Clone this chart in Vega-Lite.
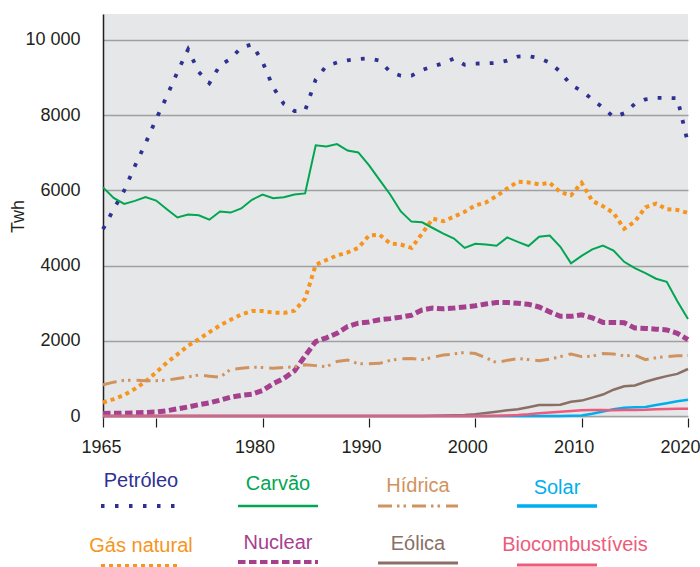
{
  "$schema": "https://vega.github.io/schema/vega-lite/v6.json",
  "width": 585,
  "height": 404,
  "autosize": {"type": "none"},
  "padding": {"left": 103, "top": 14, "right": 12, "bottom": 149},
  "background": "white",
  "config": {
    "view": {"fill": "#e6e7e8", "stroke": null},
    "font": "Liberation Sans"
  },
  "data": {"values": [
    {"year":1965,"Petróleo":4970,"Carvão":6080,"Hídrica":830,"Solar":0,"Gás natural":360,"Nuclear":70,"Eólica":0,"Biocombustíveis":0},
    {"year":1966,"Petróleo":5500,"Carvão":5800,"Hídrica":900,"Solar":0,"Gás natural":450,"Nuclear":72,"Eólica":0,"Biocombustíveis":0},
    {"year":1967,"Petróleo":6000,"Carvão":5640,"Hídrica":950,"Solar":0,"Gás natural":560,"Nuclear":75,"Eólica":0,"Biocombustíveis":0},
    {"year":1968,"Petróleo":6650,"Carvão":5720,"Hídrica":950,"Solar":0,"Gás natural":720,"Nuclear":85,"Eólica":0,"Biocombustíveis":0},
    {"year":1969,"Petróleo":7250,"Carvão":5820,"Hídrica":940,"Solar":0,"Gás natural":920,"Nuclear":95,"Eólica":0,"Biocombustíveis":0},
    {"year":1970,"Petróleo":7900,"Carvão":5730,"Hídrica":940,"Solar":0,"Gás natural":1160,"Nuclear":105,"Eólica":0,"Biocombustíveis":0},
    {"year":1971,"Petróleo":8500,"Carvão":5500,"Hídrica":950,"Solar":0,"Gás natural":1420,"Nuclear":140,"Eólica":0,"Biocombustíveis":0},
    {"year":1972,"Petróleo":9150,"Carvão":5280,"Hídrica":1000,"Solar":0,"Gás natural":1640,"Nuclear":190,"Eólica":0,"Biocombustíveis":0},
    {"year":1973,"Petróleo":9750,"Carvão":5360,"Hídrica":1040,"Solar":0,"Gás natural":1870,"Nuclear":240,"Eólica":0,"Biocombustíveis":0},
    {"year":1974,"Petróleo":9150,"Carvão":5340,"Hídrica":1090,"Solar":0,"Gás natural":2040,"Nuclear":300,"Eólica":0,"Biocombustíveis":0},
    {"year":1975,"Petróleo":8850,"Carvão":5220,"Hídrica":1060,"Solar":0,"Gás natural":2230,"Nuclear":350,"Eólica":0,"Biocombustíveis":0},
    {"year":1976,"Petróleo":9330,"Carvão":5440,"Hídrica":1030,"Solar":0,"Gás natural":2410,"Nuclear":420,"Eólica":0,"Biocombustíveis":0},
    {"year":1977,"Petróleo":9500,"Carvão":5410,"Hídrica":1240,"Solar":0,"Gás natural":2560,"Nuclear":500,"Eólica":0,"Biocombustíveis":0},
    {"year":1978,"Petróleo":9800,"Carvão":5520,"Hídrica":1270,"Solar":0,"Gás natural":2700,"Nuclear":550,"Eólica":0,"Biocombustíveis":0},
    {"year":1979,"Petróleo":9880,"Carvão":5750,"Hídrica":1300,"Solar":0,"Gás natural":2790,"Nuclear":580,"Eólica":0,"Biocombustíveis":0},
    {"year":1980,"Petróleo":9420,"Carvão":5890,"Hídrica":1290,"Solar":0,"Gás natural":2790,"Nuclear":680,"Eólica":0,"Biocombustíveis":0},
    {"year":1981,"Petróleo":8740,"Carvão":5790,"Hídrica":1270,"Solar":0,"Gás natural":2750,"Nuclear":860,"Eólica":0,"Biocombustíveis":0},
    {"year":1982,"Petróleo":8300,"Carvão":5820,"Hídrica":1290,"Solar":0,"Gás natural":2740,"Nuclear":1000,"Eólica":0,"Biocombustíveis":0},
    {"year":1983,"Petróleo":8110,"Carvão":5890,"Hídrica":1310,"Solar":0,"Gás natural":2800,"Nuclear":1200,"Eólica":0,"Biocombustíveis":0},
    {"year":1984,"Petróleo":8120,"Carvão":5920,"Hídrica":1360,"Solar":0,"Gás natural":3120,"Nuclear":1600,"Eólica":0,"Biocombustíveis":0},
    {"year":1985,"Petróleo":8950,"Carvão":7200,"Hídrica":1340,"Solar":0,"Gás natural":4020,"Nuclear":1980,"Eólica":0,"Biocombustíveis":0},
    {"year":1986,"Petróleo":9310,"Carvão":7170,"Hídrica":1310,"Solar":0,"Gás natural":4150,"Nuclear":2080,"Eólica":0,"Biocombustíveis":0},
    {"year":1987,"Petróleo":9400,"Carvão":7230,"Hídrica":1450,"Solar":0,"Gás natural":4270,"Nuclear":2200,"Eólica":0,"Biocombustíveis":0},
    {"year":1988,"Petróleo":9460,"Carvão":7060,"Hídrica":1490,"Solar":0,"Gás natural":4350,"Nuclear":2380,"Eólica":0,"Biocombustíveis":0},
    {"year":1989,"Petróleo":9490,"Carvão":7010,"Hídrica":1390,"Solar":0,"Gás natural":4470,"Nuclear":2470,"Eólica":0,"Biocombustíveis":0},
    {"year":1990,"Petróleo":9510,"Carvão":6670,"Hídrica":1390,"Solar":0,"Gás natural":4800,"Nuclear":2500,"Eólica":0,"Biocombustíveis":0},
    {"year":1991,"Petróleo":9450,"Carvão":6280,"Hídrica":1400,"Solar":0,"Gás natural":4820,"Nuclear":2560,"Eólica":0,"Biocombustíveis":0},
    {"year":1992,"Petróleo":9150,"Carvão":5890,"Hídrica":1480,"Solar":0,"Gás natural":4590,"Nuclear":2590,"Eólica":0,"Biocombustíveis":0},
    {"year":1993,"Petróleo":9050,"Carvão":5440,"Hídrica":1520,"Solar":0,"Gás natural":4560,"Nuclear":2630,"Eólica":0,"Biocombustíveis":0},
    {"year":1994,"Petróleo":9050,"Carvão":5170,"Hídrica":1530,"Solar":0,"Gás natural":4470,"Nuclear":2680,"Eólica":0,"Biocombustíveis":0},
    {"year":1995,"Petróleo":9200,"Carvão":5150,"Hídrica":1500,"Solar":0,"Gás natural":4850,"Nuclear":2820,"Eólica":0,"Biocombustíveis":0},
    {"year":1996,"Petróleo":9300,"Carvão":5000,"Hídrica":1560,"Solar":0,"Gás natural":5250,"Nuclear":2870,"Eólica":5,"Biocombustíveis":0},
    {"year":1997,"Petróleo":9380,"Carvão":4850,"Hídrica":1620,"Solar":0,"Gás natural":5180,"Nuclear":2850,"Eólica":12,"Biocombustíveis":0},
    {"year":1998,"Petróleo":9510,"Carvão":4720,"Hídrica":1650,"Solar":0,"Gás natural":5300,"Nuclear":2870,"Eólica":20,"Biocombustíveis":0},
    {"year":1999,"Petróleo":9340,"Carvão":4470,"Hídrica":1690,"Solar":0,"Gás natural":5430,"Nuclear":2900,"Eólica":30,"Biocombustíveis":0},
    {"year":2000,"Petróleo":9370,"Carvão":4580,"Hídrica":1660,"Solar":0,"Gás natural":5600,"Nuclear":2930,"Eólica":50,"Biocombustíveis":0},
    {"year":2001,"Petróleo":9380,"Carvão":4560,"Hídrica":1550,"Solar":0,"Gás natural":5680,"Nuclear":2980,"Eólica":80,"Biocombustíveis":0},
    {"year":2002,"Petróleo":9390,"Carvão":4530,"Hídrica":1420,"Solar":0,"Gás natural":5850,"Nuclear":3020,"Eólica":115,"Biocombustíveis":10},
    {"year":2003,"Petróleo":9450,"Carvão":4750,"Hídrica":1480,"Solar":0,"Gás natural":6050,"Nuclear":3020,"Eólica":150,"Biocombustíveis":15},
    {"year":2004,"Petróleo":9560,"Carvão":4630,"Hídrica":1530,"Solar":0,"Gás natural":6230,"Nuclear":3000,"Eólica":178,"Biocombustíveis":25},
    {"year":2005,"Petróleo":9570,"Carvão":4520,"Hídrica":1500,"Solar":0,"Gás natural":6210,"Nuclear":2970,"Eólica":231,"Biocombustíveis":45},
    {"year":2006,"Petróleo":9520,"Carvão":4770,"Hídrica":1470,"Solar":0,"Gás natural":6160,"Nuclear":2900,"Eólica":290,"Biocombustíveis":72},
    {"year":2007,"Petróleo":9400,"Carvão":4800,"Hídrica":1510,"Solar":0,"Gás natural":6200,"Nuclear":2770,"Eólica":290,"Biocombustíveis":95},
    {"year":2008,"Petróleo":9150,"Carvão":4500,"Hídrica":1580,"Solar":3,"Gás natural":5950,"Nuclear":2650,"Eólica":300,"Biocombustíveis":115},
    {"year":2009,"Petróleo":8800,"Carvão":4060,"Hídrica":1650,"Solar":6,"Gás natural":5870,"Nuclear":2650,"Eólica":380,"Biocombustíveis":135},
    {"year":2010,"Petróleo":8650,"Carvão":4260,"Hídrica":1580,"Solar":12,"Gás natural":6200,"Nuclear":2690,"Eólica":410,"Biocombustíveis":155},
    {"year":2011,"Petróleo":8420,"Carvão":4430,"Hídrica":1590,"Solar":60,"Gás natural":5720,"Nuclear":2610,"Eólica":490,"Biocombustíveis":160},
    {"year":2012,"Petróleo":8200,"Carvão":4530,"Hídrica":1660,"Solar":120,"Gás natural":5580,"Nuclear":2490,"Eólica":570,"Biocombustíveis":158},
    {"year":2013,"Petróleo":7950,"Carvão":4400,"Hídrica":1650,"Solar":178,"Gás natural":5400,"Nuclear":2490,"Eólica":700,"Biocombustíveis":150},
    {"year":2014,"Petróleo":8050,"Carvão":4100,"Hídrica":1600,"Solar":220,"Gás natural":4980,"Nuclear":2480,"Eólica":790,"Biocombustíveis":160},
    {"year":2015,"Petróleo":8300,"Carvão":3930,"Hídrica":1620,"Solar":235,"Gás natural":5170,"Nuclear":2340,"Eólica":810,"Biocombustíveis":162},
    {"year":2016,"Petróleo":8420,"Carvão":3800,"Hídrica":1500,"Solar":240,"Gás natural":5550,"Nuclear":2330,"Eólica":912,"Biocombustíveis":165},
    {"year":2017,"Petróleo":8460,"Carvão":3650,"Hídrica":1550,"Solar":290,"Gás natural":5650,"Nuclear":2310,"Eólica":990,"Biocombustíveis":178},
    {"year":2018,"Petróleo":8460,"Carvão":3570,"Hídrica":1580,"Solar":340,"Gás natural":5500,"Nuclear":2290,"Eólica":1060,"Biocombustíveis":185},
    {"year":2019,"Petróleo":8450,"Carvão":3050,"Hídrica":1600,"Solar":390,"Gás natural":5480,"Nuclear":2200,"Eólica":1120,"Biocombustíveis":195},
    {"year":2020,"Petróleo":7250,"Carvão":2580,"Hídrica":1610,"Solar":430,"Gás natural":5400,"Nuclear":2030,"Eólica":1250,"Biocombustíveis":195}
  ]},
  "transform": [
    {"fold": ["Petróleo","Carvão","Hídrica","Solar","Gás natural","Nuclear","Eólica","Biocombustíveis"], "as": ["series","value"]}
  ],
  "encoding": {
    "x": {"field": "year", "type": "quantitative",
      "scale": {"domain": [1965, 2020], "nice": false, "zero": false},
      "axis": {"title": null, "values": [1965,1970,1980,1990,2000,2010,2020], "format": "d",
        "labelExpr": "datum.value == 1970 ? '' : datum.label",
        "grid": false, "domain": false, "ticks": true, "tickColor": "#231f20", "tickSize": 9, "tickWidth": 1.2,
        "labelFontSize": 18, "labelColor": "#231f20", "labelPadding": 11, "labelFlush": false, "labelOverlap": false, "labelBound": false,
        "labelOffset": {"condition": {"test": "datum.value == 1965", "value": -2}, "value": -8}}},
    "y": {"field": "value", "type": "quantitative",
      "scale": {"domain": [-53, 10691], "nice": false, "zero": false},
      "axis": {"title": "Twh", "values": [0,2000,4000,6000,8000,10000], "format": "d",
        "labelExpr": "datum.value == 10000 ? '10 000' : datum.label",
        "grid": true, "gridColor": "#a0a0a0", "gridWidth": 1.3, "ticks": false,
        "domain": true, "domainColor": "#231f20", "domainWidth": 1.5,
        "labelFontSize": 18, "labelColor": "#231f20", "labelPadding": 23,
        "titleFontSize": 18, "titleFontWeight": "normal", "titleColor": "#231f20",
        "titleX": -85, "titleY": 202, "titleAngle": -90, "titleAlign": "center", "titleBaseline": "middle"}}
  },
  "layer": [
    {
      "encoding": {"color": {"field": "series", "type": "nominal",
        "scale": {"domain": ["Petróleo","Gás natural"], "range": ["#2e3192","#f7941d"]},
        "legend": {"title": null, "orient": "none", "legendX": 28, "legendY": 482, "direction": "vertical",
          "symbolType": "stroke", "symbolSize": 6400, "symbolStrokeWidth": 3.5,
          "labelOffset": -10, "labelAlign": "center", "labelFontSize": 20, "labelFont": "Liberation Sans", "labelLimit": 400,
          "rowPadding": 22, "padding": 0,
          "encode": {
            "labels": {"update": {"dy": {"signal": "datum.value === 'Petróleo' ? -25 : -20"}, "fill": {"signal": "datum.value === 'Petróleo' ? '#2e3192' : '#f7941d'"}}},
            "symbols": {"update": {"strokeDash": {"signal": "datum.value === 'Petróleo' ? [3.5,10.5] : [4,4]"}, "strokeWidth": {"signal": "datum.value === 'Petróleo' ? 4 : 4"}}}}}}},
      "layer": [
        {"transform": [{"filter": {"field": "series", "equal": "Petróleo"}}],
         "mark": {"type": "line", "strokeWidth": 3.8, "strokeDash": [3.8,10.2], "strokeCap": "butt"}},
        {"transform": [{"filter": {"field": "series", "equal": "Gás natural"}}],
         "mark": {"type": "line", "strokeWidth": 4, "strokeDash": [4,4], "strokeCap": "butt"}}
      ]
    },
    {
      "encoding": {"color": {"field": "series", "type": "nominal",
        "scale": {"domain": ["Carvão","Nuclear"], "range": ["#00a651","#a5408f"]},
        "legend": {"title": null, "orient": "none", "legendX": 165, "legendY": 482, "direction": "vertical",
          "symbolType": "stroke", "symbolSize": 6400, "symbolStrokeWidth": 3,
          "labelOffset": -10, "labelAlign": "center", "labelFontSize": 20, "labelFont": "Liberation Sans", "labelLimit": 400,
          "rowPadding": 22, "padding": 0,
          "encode": {
            "labels": {"update": {"dy": {"signal": "datum.value === 'Carvão' ? -22 : -19"}, "fill": {"signal": "datum.value === 'Carvão' ? '#00a651' : '#a5408f'"}}},
            "symbols": {"update": {"strokeDash": {"signal": "datum.value === 'Carvão' ? [1,0] : [7.5,3.5]"}, "strokeWidth": {"signal": "datum.value === 'Carvão' ? 2.5 : 4"}}}}}}},
      "layer": [
        {"transform": [{"filter": {"field": "series", "equal": "Carvão"}}],
         "mark": {"type": "line", "strokeWidth": 2}},
        {"transform": [{"filter": {"field": "series", "equal": "Nuclear"}}],
         "mark": {"type": "line", "strokeWidth": 5, "strokeDash": [7.5,3.5], "strokeCap": "butt"}}
      ]
    },
    {
      "encoding": {"color": {"field": "series", "type": "nominal",
        "scale": {"domain": ["Hídrica","Eólica"], "range": ["#d0935f","#8a6f66"]},
        "legend": {"title": null, "orient": "none", "legendX": 305, "legendY": 482, "direction": "vertical",
          "symbolType": "stroke", "symbolSize": 6400, "symbolStrokeWidth": 3,
          "labelOffset": -10, "labelAlign": "center", "labelFontSize": 20, "labelFont": "Liberation Sans", "labelLimit": 400,
          "rowPadding": 22, "padding": 0,
          "encode": {
            "labels": {"update": {"dy": {"signal": "datum.value === 'Hídrica' ? -20 : -19"}, "fill": {"signal": "datum.value === 'Hídrica' ? '#d0935f' : '#8a6f66'"}}},
            "symbols": {"update": {"strokeDash": {"signal": "datum.value === 'Hídrica' ? [14,5,2.5,4,2.5,6] : [1,0]"}, "strokeWidth": {"signal": "datum.value === 'Hídrica' ? 3 : 3"}}}}}}},
      "layer": [
        {"transform": [{"filter": {"field": "series", "equal": "Hídrica"}}],
         "mark": {"type": "line", "strokeWidth": 3, "strokeDash": [14,5,2.5,4,2.5,6], "strokeCap": "butt"}},
        {"transform": [{"filter": {"field": "series", "equal": "Eólica"}}],
         "mark": {"type": "line", "strokeWidth": 2.5}}
      ]
    },
    {
      "encoding": {"color": {"field": "series", "type": "nominal",
        "scale": {"domain": ["Solar","Biocombustíveis"], "range": ["#00aeef","#ec5b7c"]},
        "legend": {"title": null, "orient": "none", "legendX": 444, "legendY": 482, "direction": "vertical",
          "symbolType": "stroke", "symbolSize": 6400, "symbolStrokeWidth": 3,
          "labelOffset": -10, "labelAlign": "center", "labelFontSize": 20, "labelFont": "Liberation Sans", "labelLimit": 400,
          "rowPadding": 22, "padding": 0,
          "encode": {
            "labels": {"update": {"dy": {"signal": "datum.value === 'Solar' ? -18 : -20"}, "dx": {"signal": "datum.value === 'Solar' ? 0 : 18"}, "fill": {"signal": "datum.value === 'Solar' ? '#00aeef' : '#ec5b7c'"}}},
            "symbols": {"update": {"strokeDash": {"signal": "[1,0]"}, "strokeWidth": {"signal": "datum.value === 'Solar' ? 3.5 : 3"}}}}}}},
      "layer": [
        {"transform": [{"filter": {"field": "series", "equal": "Solar"}}],
         "mark": {"type": "line", "strokeWidth": 2.5}},
        {"transform": [{"filter": {"field": "series", "equal": "Biocombustíveis"}}],
         "mark": {"type": "line", "strokeWidth": 2.5}}
      ]
    }
  ],
  "resolve": {"scale": {"color": "independent"}}
}
